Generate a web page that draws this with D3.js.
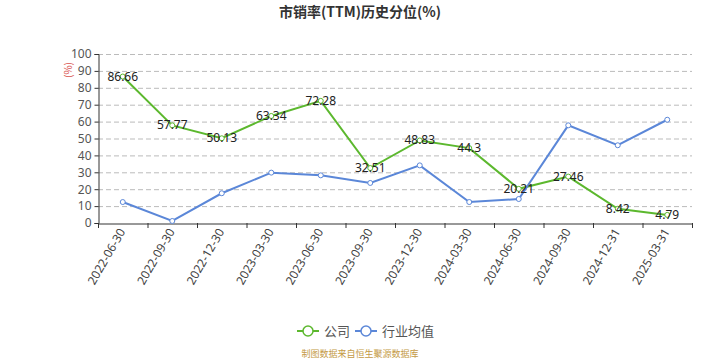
<!DOCTYPE html>
<html><head><meta charset="utf-8">
<script src="https://cdn.jsdelivr.net/npm/d3@7/dist/d3.min.js"></script>
<style>body{margin:0;background:#fff;}svg{display:block;font-family:"Noto Sans CJK SC","Noto Sans",sans-serif;}</style>
</head><body>
<svg id="c" width="720" height="360"></svg>
<script>
const categories = ["2022-06-30","2022-09-30","2022-12-30","2023-03-30","2023-06-30","2023-09-30","2023-12-30","2024-03-30","2024-06-30","2024-09-30","2024-12-31","2025-03-31"];
const companyValues = [86.66,57.77,50.13,63.34,72.28,32.51,48.83,44.3,20.21,27.46,8.42,4.79];
const industryValues = [12.4,1.2,17.6,29.8,28.2,23.7,34.1,12.4,14.2,57.8,46.0,61.1];
const yTicks = [0,10,20,30,40,50,60,70,80,90,100];
const seriesNames = ["公司","行业均值"];
const colors = ["#5cb82e","#5b87d8"];

const svg = d3.select("#c");
const pLeft = 98, pRight = 692, pTop = 54, pBottom = 223;
const x = d3.scaleBand().domain(categories).range([pLeft, pRight]);
const y = d3.scaleLinear().domain([0,100]).range([pBottom, pTop]);

svg.append("text").attr("x",360).attr("y",17).attr("text-anchor","middle")
  .attr("font-size",14).attr("font-weight","bold").attr("fill","#333").text("市销率(TTM)历史分位(%)");

// grid
svg.append("g").selectAll("line").data(yTicks.filter(d=>d>0)).join("line")
  .attr("x1",pLeft).attr("x2",pRight).attr("y1",d=>y(d)+0.5).attr("y2",d=>y(d)+0.5)
  .attr("stroke","#bbb").attr("stroke-dasharray","5,3");

// y axis
const ya = svg.append("g").attr("transform",`translate(${pLeft+0.5},0)`)
  .call(d3.axisLeft(y).tickValues(yTicks).tickSize(4).tickPadding(3));
ya.select(".domain").attr("stroke","#333");
ya.selectAll(".tick line").attr("stroke","#333");
ya.selectAll("text").attr("font-size",12).attr("fill","#555").attr("font-family","'Noto Sans',sans-serif");

svg.append("text").attr("transform","translate(72,70) rotate(-90)").attr("text-anchor","middle")
  .attr("font-size",10).attr("fill","#d9534f").text("(%)");

// x axis
const xa = svg.append("g").attr("transform",`translate(0,${pBottom+0.5})`)
  .call(d3.axisBottom(x).tickSize(0).tickPadding(0));
xa.select(".domain").attr("stroke","#333");
xa.selectAll(".tick text").attr("font-size",12).attr("fill","#444")
  .attr("font-family","'Noto Sans',sans-serif")
  .attr("text-anchor","end").attr("dy",0)
  .attr("transform","translate(3,8) rotate(-60)");
svg.append("g").selectAll("line").data(d3.range(categories.length+1)).join("line")
  .attr("x1",i=>pLeft + i*x.step()+0.5).attr("x2",i=>pLeft + i*x.step()+0.5)
  .attr("y1",pBottom).attr("y2",pBottom+5).attr("stroke","#333");

const line = d3.line().x((d,i)=>x(categories[i])+x.bandwidth()/2).y(d=>y(d));
[companyValues, industryValues].forEach((vals,k)=>{
  svg.append("path").datum(vals).attr("d",line).attr("fill","none")
    .attr("stroke",colors[k]).attr("stroke-width",2);
  svg.append("g").selectAll("circle").data(vals).join("circle")
    .attr("cx",(d,i)=>x(categories[i])+x.bandwidth()/2).attr("cy",d=>y(d)).attr("r",2.5)
    .attr("fill","#fff").attr("stroke",colors[k]).attr("stroke-width",1);
});

svg.append("g").selectAll("text").data(companyValues).join("text")
  .attr("x",(d,i)=>x(categories[i])+x.bandwidth()/2).attr("y",d=>y(d)+4)
  .attr("text-anchor","middle").attr("font-size",12).attr("fill","#222")
  .attr("font-family","'Noto Sans',sans-serif").text(d=>d);

// legend
const lg = svg.append("g");
const lx = [297, 355];
seriesNames.forEach((n,k)=>{
  const g = lg.append("g").attr("transform",`translate(${lx[k]},331)`);
  g.append("line").attr("x1",0).attr("x2",22).attr("stroke",colors[k]).attr("stroke-width",2);
  g.append("circle").attr("cx",11).attr("r",5).attr("fill","#fff").attr("stroke",colors[k]).attr("stroke-width",1.5);
  g.append("text").attr("x",27).attr("y",5).attr("font-size",13).attr("fill","#555").text(n);
});

svg.append("text").attr("x",360).attr("y",357).attr("text-anchor","middle")
  .attr("font-size",9).attr("fill","#c49a45").text("制图数据来自恒生聚源数据库");
</script>
</body></html>
